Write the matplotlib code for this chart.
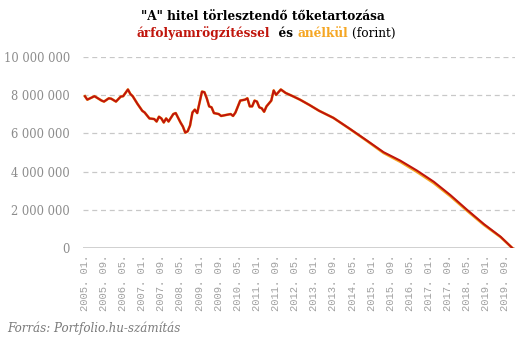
import matplotlib
matplotlib.use("Agg")
import matplotlib.pyplot as plt
from matplotlib.ticker import FuncFormatter

# ---- data (month index from 2005.01; values in million HUF) ----
months = [0, 1, 4, 7, 8, 10, 11, 13, 15, 16, 18, 19, 20, 22, 24, 25, 27, 29, 30, 31,
          32, 33, 34, 35, 37, 38, 40, 41, 42, 43, 44, 45, 46, 47, 48, 49, 50, 51, 52, 53,
          54, 56, 57, 59, 61, 62, 63, 65, 67, 68, 69, 70, 71, 72, 73, 74, 75, 76, 78, 79,
          80, 82, 84, 87, 90, 94, 98, 104, 111, 118, 125, 132, 139, 146, 153, 160, 167, 174, 179]
fixed_mn = [7.93, 7.75, 7.93, 7.70, 7.65, 7.82, 7.80, 7.65, 7.91, 7.93, 8.28, 8.05, 7.93, 7.53, 7.17, 7.08, 6.77, 6.74, 6.61, 6.86,
            6.77, 6.56, 6.77, 6.61, 7.00, 7.05, 6.56, 6.35, 6.03, 6.10, 6.40, 7.08, 7.23, 7.05, 7.61, 8.17, 8.14, 7.82, 7.40, 7.35,
            7.05, 7.00, 6.90, 6.95, 7.00, 6.90, 7.08, 7.70, 7.75, 7.82, 7.40, 7.40, 7.70, 7.65, 7.35, 7.30, 7.12, 7.40, 7.70, 8.23,
            8.00, 8.28, 8.10, 7.93, 7.75, 7.47, 7.17, 6.80, 6.22, 5.62, 5.01, 4.57, 4.05, 3.47, 2.77, 2.00, 1.26, 0.60, 0.00]
without_mn = [7.93, 7.75, 7.93, 7.70, 7.65, 7.82, 7.80, 7.65, 7.91, 7.93, 8.28, 8.05, 7.93, 7.53, 7.17, 7.08, 6.77, 6.74, 6.61, 6.86,
              6.77, 6.56, 6.77, 6.61, 7.00, 7.05, 6.56, 6.35, 6.03, 6.10, 6.40, 7.08, 7.23, 7.05, 7.61, 8.17, 8.14, 7.82, 7.40, 7.35,
              7.05, 7.00, 6.90, 6.95, 7.00, 6.90, 7.08, 7.70, 7.75, 7.82, 7.40, 7.40, 7.70, 7.65, 7.35, 7.30, 7.12, 7.40, 7.70, 8.23,
              8.00, 8.28, 8.10, 7.93, 7.75, 7.47, 7.17, 6.80, 6.21, 5.60, 4.97, 4.51, 3.98, 3.40, 2.71, 1.95, 1.22, 0.58, 0.00]
tick_months = list(range(0, 177, 8))
tick_labels = [f"{2005 + m // 12}. {m % 12 + 1:02d}." for m in tick_months]
y_ticks = [0, 2_000_000, 4_000_000, 6_000_000, 8_000_000, 10_000_000]

RED = "#C0150C"
ORANGE = "#F5A623"
GRAY = "#8C8C8C"
TFS = 8.7

W, H = 531, 342
fig = plt.figure(figsize=(W / 100, H / 100), dpi=100)
ax = fig.add_axes([83 / W, 1 - 248.3 / H, (515 - 83) / W, (248.3 - 56.5) / H])

fixed = [v * 1e6 for v in fixed_mn]
without = [v * 1e6 for v in without_mn]
ax.plot(months, without, color=ORANGE, lw=1.9, solid_joinstyle="round", zorder=3)
ax.plot(months, fixed, color=RED, lw=1.5, solid_joinstyle="round", zorder=4)

ax.set_xlim(-0.8, 180)
ax.set_ylim(0, 10_000_000)
for s in ax.spines.values():
    s.set_visible(False)
for v in y_ticks[1:]:
    ax.axhline(v, color="#C8C8C8", lw=0.9, ls=(0, (4, 3)), zorder=1)
ax.axhline(0, color="#C8C8C8", lw=1.2, zorder=2)

ax.set_yticks(y_ticks)
ax.yaxis.set_major_formatter(FuncFormatter(lambda v, p: f"{int(v):,}".replace(",", " ")))
ax.tick_params(axis="y", length=0, pad=9.4, labelcolor=GRAY)
for lbl in ax.get_yticklabels():
    lbl.set_family("DejaVu Serif")
    lbl.set_fontsize(8.3)

ax.set_xticks(tick_months)
ax.set_xticklabels(tick_labels, rotation=90, family="Liberation Mono", fontsize=7.6, color="#A0A0A0")
ax.tick_params(axis="x", length=0, pad=5)

# ---- title ----
fig.text(263 / W, 1 - 20 / H, '"A" hitel törlesztendő tőketartozása', ha="center", va="baseline",
         family="DejaVu Serif", fontweight="bold", fontsize=TFS, color="black")
parts = [("árfolyamrögzítéssel", RED, "bold"), ("  és ", "black", "bold"),
         ("anélkül", ORANGE, "bold"), (" (forint)", "black", "normal")]
prev = fig.text(137 / W, 1 - 37 / H, parts[0][0], ha="left", va="baseline",
                family="DejaVu Serif", fontweight=parts[0][2], fontsize=TFS, color=parts[0][1])
for txt, col, wt in parts[1:]:
    prev = plt.annotate(txt, xy=(1, 0), xycoords=prev, va="bottom", ha="left", family="DejaVu Serif",
                        fontweight=wt, fontsize=TFS, color=col, annotation_clip=False)

fig.text(7 / W, 1 - 328 / H, "Forrás: Portfolio.hu-számítás", ha="left", va="center",
         family="DejaVu Serif", style="italic", fontsize=8.6, color="#7A7A7A")

fig.savefig("out.png", dpi=100)
